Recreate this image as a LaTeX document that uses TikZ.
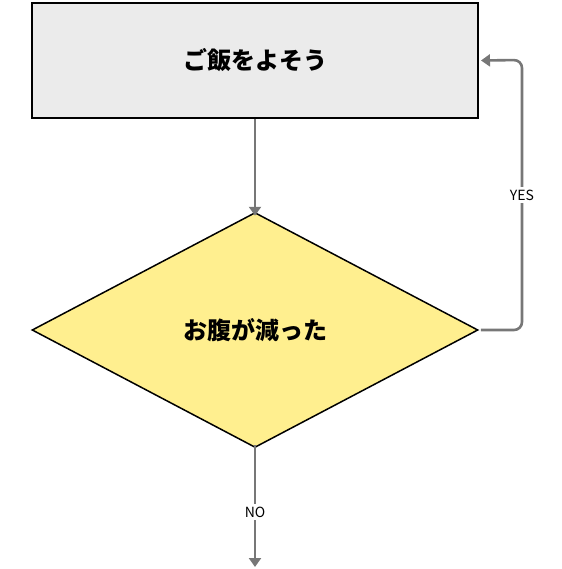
\documentclass[tikz,border=0pt]{standalone}
\usepackage{fontspec}
\setmainfont{Noto Sans CJK JP}
\usetikzlibrary{shapes.geometric,arrows.meta}
\definecolor{boxgray}{HTML}{EBEBEB}
\definecolor{diayel}{HTML}{FFEF8F}
\definecolor{linegray}{HTML}{777777}
\begin{document}
\begin{tikzpicture}[x=1pt,y=-1pt,
  conn/.style={draw=linegray,line width=2.6pt,-{Triangle[length=9pt,width=12pt]}},
  lbl/.style={fill=white,font=\fontsize{14}{16}\selectfont,inner sep=3pt}]
\useasboundingbox (0,0) rectangle (561,569);
\node[draw=black,line width=2pt,fill=boxgray,minimum width=446pt,minimum height=115pt,
  font=\fontsize{24}{28}\selectfont\bfseries] (rice) at (255,60.5) {ご飯をよそう};
\node[diamond,draw=black,line width=1.5pt,fill=diayel,minimum width=446pt,minimum height=235pt,inner sep=0pt,aspect=1.9,
  font=\fontsize{24}{28}\selectfont\bfseries] (hungry) at (255,330) {};
\node[font=\fontsize{24}{28}\selectfont\bfseries] (ht) at (255,330) {お腹が減った};
\coordinate (end) at (255,567);
\coordinate (c1) at (522,330);
\coordinate (c2) at (522,60);
\draw[conn] (rice.south) -- ([yshift=-4pt]hungry.north);
\draw[conn,rounded corners=8pt] ([xshift=2pt]hungry.east) -- (c1) -- (c2) -- ([xshift=2pt]rice.east);
\draw[conn] ([yshift=3pt]hungry.south) -- (end);
\node[lbl] (yes) at (522,195) {YES};
\node[lbl] (no) at (255,512) {NO};
\end{tikzpicture}
\end{document}
